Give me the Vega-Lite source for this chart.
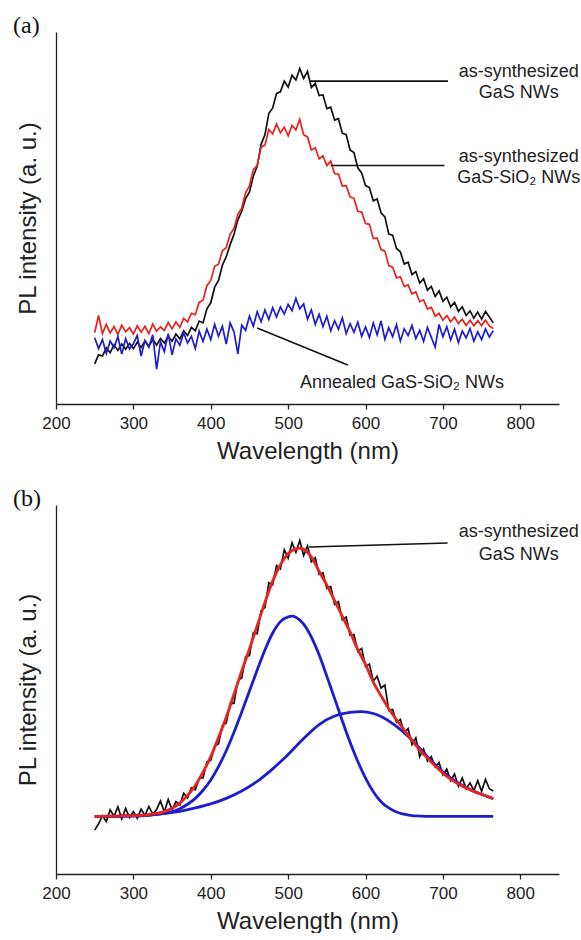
{
  "$schema": "https://vega.github.io/schema/vega-lite/v6.json",
  "background": "white",
  "padding": {"left": 13, "top": 14, "right": 0, "bottom": 0},
  "spacing": 24,
  "config": {
    "view": {"stroke": null},
    "font": "Liberation Sans",
    "axis": {"domainColor": "#222", "domainWidth": 1.3, "tickColor": "#222", "tickWidth": 1.3, "tickSize": 5, "labelFont": "Liberation Sans", "labelFontSize": 17, "labelColor": "#222", "labelPadding": 6, "titleFont": "Liberation Sans", "titleFontSize": 24, "titleFontWeight": "normal", "titleColor": "#222", "titlePadding": 8, "grid": false},
    "axisY": {"titlePadding": 16},
    "title": {"font": "Liberation Serif", "fontSize": 24, "fontWeight": "normal", "color": "#111", "anchor": "start", "frame": "group", "dx": -43, "dy": 10, "offset": 4}
  },
  "datasets": {
    "spectra": [
      {"series":"a_GaS","nm":250,"pl":10.8},{"series":"a_GaS","nm":255,"pl":13.2},{"series":"a_GaS","nm":260,"pl":12.9},{"series":"a_GaS","nm":265,"pl":15.1},{"series":"a_GaS","nm":270,"pl":13.8},{"series":"a_GaS","nm":275,"pl":15.9},{"series":"a_GaS","nm":280,"pl":14.4},{"series":"a_GaS","nm":285,"pl":16.1},{"series":"a_GaS","nm":290,"pl":14.7},{"series":"a_GaS","nm":295,"pl":16.3},{"series":"a_GaS","nm":300,"pl":14.9},{"series":"a_GaS","nm":305,"pl":16.6},{"series":"a_GaS","nm":310,"pl":15.2},{"series":"a_GaS","nm":315,"pl":16.9},{"series":"a_GaS","nm":320,"pl":15.5},{"series":"a_GaS","nm":325,"pl":17.4},{"series":"a_GaS","nm":330,"pl":15.8},{"series":"a_GaS","nm":335,"pl":17.6},{"series":"a_GaS","nm":340,"pl":16.4},{"series":"a_GaS","nm":345,"pl":18.2},{"series":"a_GaS","nm":350,"pl":16.9},{"series":"a_GaS","nm":355,"pl":18.8},{"series":"a_GaS","nm":360,"pl":17.5},{"series":"a_GaS","nm":365,"pl":19.6},{"series":"a_GaS","nm":370,"pl":18.4},{"series":"a_GaS","nm":375,"pl":20.6},{"series":"a_GaS","nm":380,"pl":19.7},{"series":"a_GaS","nm":385,"pl":22.3},{"series":"a_GaS","nm":390,"pl":21.8},{"series":"a_GaS","nm":395,"pl":25.6},{"series":"a_GaS","nm":400,"pl":27.2},{"series":"a_GaS","nm":405,"pl":31.4},{"series":"a_GaS","nm":410,"pl":33.2},{"series":"a_GaS","nm":415,"pl":37.3},{"series":"a_GaS","nm":420,"pl":39.6},{"series":"a_GaS","nm":425,"pl":42.8},{"series":"a_GaS","nm":430,"pl":45.6},{"series":"a_GaS","nm":435,"pl":49.5},{"series":"a_GaS","nm":440,"pl":51.8},{"series":"a_GaS","nm":445,"pl":55.2},{"series":"a_GaS","nm":450,"pl":57.0},{"series":"a_GaS","nm":455,"pl":61.3},{"series":"a_GaS","nm":460,"pl":63.9},{"series":"a_GaS","nm":465,"pl":69.8},{"series":"a_GaS","nm":470,"pl":72.4},{"series":"a_GaS","nm":475,"pl":78.1},{"series":"a_GaS","nm":480,"pl":79.6},{"series":"a_GaS","nm":485,"pl":83.5},{"series":"a_GaS","nm":490,"pl":83.9},{"series":"a_GaS","nm":495,"pl":86.8},{"series":"a_GaS","nm":500,"pl":85.2},{"series":"a_GaS","nm":505,"pl":88.4},{"series":"a_GaS","nm":510,"pl":87.1},{"series":"a_GaS","nm":515,"pl":90.2},{"series":"a_GaS","nm":520,"pl":87.5},{"series":"a_GaS","nm":525,"pl":89.4},{"series":"a_GaS","nm":530,"pl":85.1},{"series":"a_GaS","nm":535,"pl":86.2},{"series":"a_GaS","nm":540,"pl":82.9},{"series":"a_GaS","nm":545,"pl":83.1},{"series":"a_GaS","nm":550,"pl":79.4},{"series":"a_GaS","nm":555,"pl":79.8},{"series":"a_GaS","nm":560,"pl":76.3},{"series":"a_GaS","nm":565,"pl":76.7},{"series":"a_GaS","nm":570,"pl":72.8},{"series":"a_GaS","nm":575,"pl":72.4},{"series":"a_GaS","nm":580,"pl":68.3},{"series":"a_GaS","nm":585,"pl":67.6},{"series":"a_GaS","nm":590,"pl":63.5},{"series":"a_GaS","nm":595,"pl":62.1},{"series":"a_GaS","nm":600,"pl":58.7},{"series":"a_GaS","nm":605,"pl":58.2},{"series":"a_GaS","nm":610,"pl":54.6},{"series":"a_GaS","nm":615,"pl":55.1},{"series":"a_GaS","nm":620,"pl":51.4},{"series":"a_GaS","nm":625,"pl":50.3},{"series":"a_GaS","nm":630,"pl":45.7},{"series":"a_GaS","nm":635,"pl":45.4},{"series":"a_GaS","nm":640,"pl":41.8},{"series":"a_GaS","nm":645,"pl":40.9},{"series":"a_GaS","nm":650,"pl":37.6},{"series":"a_GaS","nm":655,"pl":38.1},{"series":"a_GaS","nm":660,"pl":34.8},{"series":"a_GaS","nm":665,"pl":35.6},{"series":"a_GaS","nm":670,"pl":32.5},{"series":"a_GaS","nm":675,"pl":33.7},{"series":"a_GaS","nm":680,"pl":30.6},{"series":"a_GaS","nm":685,"pl":31.6},{"series":"a_GaS","nm":690,"pl":28.9},{"series":"a_GaS","nm":695,"pl":30.4},{"series":"a_GaS","nm":700,"pl":27.6},{"series":"a_GaS","nm":705,"pl":28.7},{"series":"a_GaS","nm":710,"pl":26.1},{"series":"a_GaS","nm":715,"pl":27.3},{"series":"a_GaS","nm":720,"pl":24.9},{"series":"a_GaS","nm":725,"pl":26.1},{"series":"a_GaS","nm":730,"pl":23.8},{"series":"a_GaS","nm":735,"pl":25.0},{"series":"a_GaS","nm":740,"pl":23.1},{"series":"a_GaS","nm":745,"pl":24.7},{"series":"a_GaS","nm":750,"pl":22.8},{"series":"a_GaS","nm":755,"pl":24.9},{"series":"a_GaS","nm":760,"pl":23.4},{"series":"a_GaS","nm":765,"pl":21.8},

      {"series":"a_GaSSiO2","nm":250,"pl":19.2},{"series":"a_GaSSiO2","nm":255,"pl":23.8},{"series":"a_GaSSiO2","nm":260,"pl":18.9},{"series":"a_GaSSiO2","nm":265,"pl":21.4},{"series":"a_GaSSiO2","nm":270,"pl":19.1},{"series":"a_GaSSiO2","nm":275,"pl":20.8},{"series":"a_GaSSiO2","nm":280,"pl":18.7},{"series":"a_GaSSiO2","nm":285,"pl":21.2},{"series":"a_GaSSiO2","nm":290,"pl":19.4},{"series":"a_GaSSiO2","nm":295,"pl":20.5},{"series":"a_GaSSiO2","nm":300,"pl":18.8},{"series":"a_GaSSiO2","nm":305,"pl":21.0},{"series":"a_GaSSiO2","nm":310,"pl":19.3},{"series":"a_GaSSiO2","nm":315,"pl":20.9},{"series":"a_GaSSiO2","nm":320,"pl":18.9},{"series":"a_GaSSiO2","nm":325,"pl":21.5},{"series":"a_GaSSiO2","nm":330,"pl":19.6},{"series":"a_GaSSiO2","nm":335,"pl":20.7},{"series":"a_GaSSiO2","nm":340,"pl":19.8},{"series":"a_GaSSiO2","nm":345,"pl":21.9},{"series":"a_GaSSiO2","nm":350,"pl":20.2},{"series":"a_GaSSiO2","nm":355,"pl":22.1},{"series":"a_GaSSiO2","nm":360,"pl":20.6},{"series":"a_GaSSiO2","nm":365,"pl":23.0},{"series":"a_GaSSiO2","nm":370,"pl":22.1},{"series":"a_GaSSiO2","nm":375,"pl":24.4},{"series":"a_GaSSiO2","nm":380,"pl":24.0},{"series":"a_GaSSiO2","nm":385,"pl":27.3},{"series":"a_GaSSiO2","nm":390,"pl":27.9},{"series":"a_GaSSiO2","nm":395,"pl":31.8},{"series":"a_GaSSiO2","nm":400,"pl":33.2},{"series":"a_GaSSiO2","nm":405,"pl":37.0},{"series":"a_GaSSiO2","nm":410,"pl":37.6},{"series":"a_GaSSiO2","nm":415,"pl":41.2},{"series":"a_GaSSiO2","nm":420,"pl":42.0},{"series":"a_GaSSiO2","nm":425,"pl":45.6},{"series":"a_GaSSiO2","nm":430,"pl":47.2},{"series":"a_GaSSiO2","nm":435,"pl":51.0},{"series":"a_GaSSiO2","nm":440,"pl":52.6},{"series":"a_GaSSiO2","nm":445,"pl":56.8},{"series":"a_GaSSiO2","nm":450,"pl":58.6},{"series":"a_GaSSiO2","nm":455,"pl":63.0},{"series":"a_GaSSiO2","nm":460,"pl":64.1},{"series":"a_GaSSiO2","nm":465,"pl":69.0},{"series":"a_GaSSiO2","nm":470,"pl":69.6},{"series":"a_GaSSiO2","nm":475,"pl":73.8},{"series":"a_GaSSiO2","nm":480,"pl":72.6},{"series":"a_GaSSiO2","nm":485,"pl":75.3},{"series":"a_GaSSiO2","nm":490,"pl":72.9},{"series":"a_GaSSiO2","nm":495,"pl":74.4},{"series":"a_GaSSiO2","nm":500,"pl":72.1},{"series":"a_GaSSiO2","nm":505,"pl":74.9},{"series":"a_GaSSiO2","nm":510,"pl":73.7},{"series":"a_GaSSiO2","nm":515,"pl":76.5},{"series":"a_GaSSiO2","nm":520,"pl":72.4},{"series":"a_GaSSiO2","nm":525,"pl":71.8},{"series":"a_GaSSiO2","nm":530,"pl":68.3},{"series":"a_GaSSiO2","nm":535,"pl":68.9},{"series":"a_GaSSiO2","nm":540,"pl":65.9},{"series":"a_GaSSiO2","nm":545,"pl":66.7},{"series":"a_GaSSiO2","nm":550,"pl":64.1},{"series":"a_GaSSiO2","nm":555,"pl":65.3},{"series":"a_GaSSiO2","nm":560,"pl":61.9},{"series":"a_GaSSiO2","nm":565,"pl":61.8},{"series":"a_GaSSiO2","nm":570,"pl":58.6},{"series":"a_GaSSiO2","nm":575,"pl":58.7},{"series":"a_GaSSiO2","nm":580,"pl":55.7},{"series":"a_GaSSiO2","nm":585,"pl":55.3},{"series":"a_GaSSiO2","nm":590,"pl":51.8},{"series":"a_GaSSiO2","nm":595,"pl":51.6},{"series":"a_GaSSiO2","nm":600,"pl":48.5},{"series":"a_GaSSiO2","nm":605,"pl":48.3},{"series":"a_GaSSiO2","nm":610,"pl":44.5},{"series":"a_GaSSiO2","nm":615,"pl":44.6},{"series":"a_GaSSiO2","nm":620,"pl":41.5},{"series":"a_GaSSiO2","nm":625,"pl":41.1},{"series":"a_GaSSiO2","nm":630,"pl":37.2},{"series":"a_GaSSiO2","nm":635,"pl":36.8},{"series":"a_GaSSiO2","nm":640,"pl":33.9},{"series":"a_GaSSiO2","nm":645,"pl":34.2},{"series":"a_GaSSiO2","nm":650,"pl":31.6},{"series":"a_GaSSiO2","nm":655,"pl":32.0},{"series":"a_GaSSiO2","nm":660,"pl":29.6},{"series":"a_GaSSiO2","nm":665,"pl":30.1},{"series":"a_GaSSiO2","nm":670,"pl":27.5},{"series":"a_GaSSiO2","nm":675,"pl":28.0},{"series":"a_GaSSiO2","nm":680,"pl":25.5},{"series":"a_GaSSiO2","nm":685,"pl":26.0},{"series":"a_GaSSiO2","nm":690,"pl":23.6},{"series":"a_GaSSiO2","nm":695,"pl":24.4},{"series":"a_GaSSiO2","nm":700,"pl":22.5},{"series":"a_GaSSiO2","nm":705,"pl":23.8},{"series":"a_GaSSiO2","nm":710,"pl":22.1},{"series":"a_GaSSiO2","nm":715,"pl":23.4},{"series":"a_GaSSiO2","nm":720,"pl":21.6},{"series":"a_GaSSiO2","nm":725,"pl":22.8},{"series":"a_GaSSiO2","nm":730,"pl":21.1},{"series":"a_GaSSiO2","nm":735,"pl":22.5},{"series":"a_GaSSiO2","nm":740,"pl":21.0},{"series":"a_GaSSiO2","nm":745,"pl":22.4},{"series":"a_GaSSiO2","nm":750,"pl":21.1},{"series":"a_GaSSiO2","nm":755,"pl":22.6},{"series":"a_GaSSiO2","nm":760,"pl":21.0},{"series":"a_GaSSiO2","nm":765,"pl":20.3},

      {"series":"a_annealed","nm":250,"pl":17.8},{"series":"a_annealed","nm":255,"pl":14.9},{"series":"a_annealed","nm":260,"pl":17.3},{"series":"a_annealed","nm":265,"pl":13.6},{"series":"a_annealed","nm":270,"pl":16.9},{"series":"a_annealed","nm":275,"pl":15.2},{"series":"a_annealed","nm":280,"pl":18.1},{"series":"a_annealed","nm":285,"pl":13.4},{"series":"a_annealed","nm":290,"pl":17.6},{"series":"a_annealed","nm":295,"pl":14.8},{"series":"a_annealed","nm":300,"pl":16.2},{"series":"a_annealed","nm":305,"pl":18.4},{"series":"a_annealed","nm":310,"pl":12.9},{"series":"a_annealed","nm":315,"pl":17.1},{"series":"a_annealed","nm":320,"pl":15.3},{"series":"a_annealed","nm":325,"pl":18.6},{"series":"a_annealed","nm":330,"pl":9.4},{"series":"a_annealed","nm":335,"pl":16.7},{"series":"a_annealed","nm":340,"pl":14.1},{"series":"a_annealed","nm":345,"pl":18.9},{"series":"a_annealed","nm":350,"pl":13.2},{"series":"a_annealed","nm":355,"pl":17.5},{"series":"a_annealed","nm":360,"pl":15.8},{"series":"a_annealed","nm":365,"pl":19.1},{"series":"a_annealed","nm":370,"pl":16.4},{"series":"a_annealed","nm":375,"pl":18.2},{"series":"a_annealed","nm":380,"pl":14.9},{"series":"a_annealed","nm":385,"pl":19.6},{"series":"a_annealed","nm":390,"pl":16.8},{"series":"a_annealed","nm":395,"pl":20.1},{"series":"a_annealed","nm":400,"pl":17.3},{"series":"a_annealed","nm":405,"pl":21.4},{"series":"a_annealed","nm":410,"pl":18.2},{"series":"a_annealed","nm":415,"pl":20.9},{"series":"a_annealed","nm":420,"pl":16.1},{"series":"a_annealed","nm":425,"pl":21.8},{"series":"a_annealed","nm":430,"pl":19.4},{"series":"a_annealed","nm":435,"pl":13.5},{"series":"a_annealed","nm":440,"pl":21.2},{"series":"a_annealed","nm":445,"pl":19.8},{"series":"a_annealed","nm":450,"pl":23.6},{"series":"a_annealed","nm":455,"pl":20.9},{"series":"a_annealed","nm":460,"pl":24.8},{"series":"a_annealed","nm":465,"pl":22.1},{"series":"a_annealed","nm":470,"pl":25.3},{"series":"a_annealed","nm":475,"pl":22.7},{"series":"a_annealed","nm":480,"pl":25.9},{"series":"a_annealed","nm":485,"pl":23.4},{"series":"a_annealed","nm":490,"pl":26.1},{"series":"a_annealed","nm":495,"pl":24.2},{"series":"a_annealed","nm":500,"pl":26.8},{"series":"a_annealed","nm":505,"pl":25.1},{"series":"a_annealed","nm":510,"pl":28.4},{"series":"a_annealed","nm":515,"pl":25.6},{"series":"a_annealed","nm":520,"pl":26.9},{"series":"a_annealed","nm":525,"pl":22.8},{"series":"a_annealed","nm":530,"pl":25.3},{"series":"a_annealed","nm":535,"pl":21.4},{"series":"a_annealed","nm":540,"pl":24.1},{"series":"a_annealed","nm":545,"pl":20.8},{"series":"a_annealed","nm":550,"pl":23.6},{"series":"a_annealed","nm":555,"pl":19.7},{"series":"a_annealed","nm":560,"pl":22.4},{"series":"a_annealed","nm":565,"pl":20.1},{"series":"a_annealed","nm":570,"pl":23.2},{"series":"a_annealed","nm":575,"pl":18.9},{"series":"a_annealed","nm":580,"pl":21.6},{"series":"a_annealed","nm":585,"pl":19.3},{"series":"a_annealed","nm":590,"pl":22.0},{"series":"a_annealed","nm":595,"pl":18.2},{"series":"a_annealed","nm":600,"pl":20.7},{"series":"a_annealed","nm":605,"pl":17.9},{"series":"a_annealed","nm":610,"pl":21.8},{"series":"a_annealed","nm":615,"pl":18.6},{"series":"a_annealed","nm":620,"pl":22.3},{"series":"a_annealed","nm":625,"pl":17.4},{"series":"a_annealed","nm":630,"pl":20.5},{"series":"a_annealed","nm":635,"pl":18.1},{"series":"a_annealed","nm":640,"pl":21.3},{"series":"a_annealed","nm":645,"pl":16.9},{"series":"a_annealed","nm":650,"pl":20.2},{"series":"a_annealed","nm":655,"pl":18.4},{"series":"a_annealed","nm":660,"pl":21.1},{"series":"a_annealed","nm":665,"pl":17.6},{"series":"a_annealed","nm":670,"pl":19.8},{"series":"a_annealed","nm":675,"pl":16.8},{"series":"a_annealed","nm":680,"pl":20.6},{"series":"a_annealed","nm":685,"pl":17.9},{"series":"a_annealed","nm":690,"pl":15.3},{"series":"a_annealed","nm":695,"pl":21.4},{"series":"a_annealed","nm":700,"pl":18.1},{"series":"a_annealed","nm":705,"pl":20.8},{"series":"a_annealed","nm":710,"pl":17.2},{"series":"a_annealed","nm":715,"pl":20.1},{"series":"a_annealed","nm":720,"pl":16.5},{"series":"a_annealed","nm":725,"pl":19.6},{"series":"a_annealed","nm":730,"pl":17.8},{"series":"a_annealed","nm":735,"pl":20.3},{"series":"a_annealed","nm":740,"pl":16.9},{"series":"a_annealed","nm":745,"pl":19.4},{"series":"a_annealed","nm":750,"pl":17.3},{"series":"a_annealed","nm":755,"pl":20.2},{"series":"a_annealed","nm":760,"pl":18.0},{"series":"a_annealed","nm":765,"pl":19.7},

      {"series":"b_data","nm":250,"pl":11.9},{"series":"b_data","nm":255,"pl":13.6},{"series":"b_data","nm":260,"pl":15.8},{"series":"b_data","nm":265,"pl":14.2},{"series":"b_data","nm":270,"pl":17.4},{"series":"b_data","nm":275,"pl":15.6},{"series":"b_data","nm":280,"pl":18.2},{"series":"b_data","nm":285,"pl":14.9},{"series":"b_data","nm":290,"pl":17.8},{"series":"b_data","nm":295,"pl":15.3},{"series":"b_data","nm":300,"pl":16.9},{"series":"b_data","nm":305,"pl":15.1},{"series":"b_data","nm":310,"pl":17.6},{"series":"b_data","nm":315,"pl":15.9},{"series":"b_data","nm":320,"pl":18.3},{"series":"b_data","nm":325,"pl":16.2},{"series":"b_data","nm":330,"pl":17.5},{"series":"b_data","nm":335,"pl":19.8},{"series":"b_data","nm":340,"pl":16.8},{"series":"b_data","nm":345,"pl":20.2},{"series":"b_data","nm":350,"pl":17.4},{"series":"b_data","nm":355,"pl":19.6},{"series":"b_data","nm":360,"pl":18.7},{"series":"b_data","nm":365,"pl":21.9},{"series":"b_data","nm":370,"pl":20.6},{"series":"b_data","nm":375,"pl":23.4},{"series":"b_data","nm":380,"pl":22.8},{"series":"b_data","nm":385,"pl":25.9},{"series":"b_data","nm":390,"pl":26.1},{"series":"b_data","nm":395,"pl":30.4},{"series":"b_data","nm":400,"pl":30.8},{"series":"b_data","nm":405,"pl":34.6},{"series":"b_data","nm":410,"pl":35.3},{"series":"b_data","nm":415,"pl":40.2},{"series":"b_data","nm":420,"pl":40.9},{"series":"b_data","nm":425,"pl":46.1},{"series":"b_data","nm":430,"pl":46.3},{"series":"b_data","nm":435,"pl":52.4},{"series":"b_data","nm":440,"pl":53.1},{"series":"b_data","nm":445,"pl":58.9},{"series":"b_data","nm":450,"pl":59.2},{"series":"b_data","nm":455,"pl":65.4},{"series":"b_data","nm":460,"pl":65.1},{"series":"b_data","nm":465,"pl":71.3},{"series":"b_data","nm":470,"pl":72.2},{"series":"b_data","nm":475,"pl":78.9},{"series":"b_data","nm":480,"pl":78.4},{"series":"b_data","nm":485,"pl":83.6},{"series":"b_data","nm":490,"pl":82.7},{"series":"b_data","nm":495,"pl":87.9},{"series":"b_data","nm":500,"pl":85.6},{"series":"b_data","nm":505,"pl":89.8},{"series":"b_data","nm":510,"pl":87.2},{"series":"b_data","nm":515,"pl":90.4},{"series":"b_data","nm":520,"pl":86.3},{"series":"b_data","nm":525,"pl":88.9},{"series":"b_data","nm":530,"pl":84.6},{"series":"b_data","nm":535,"pl":85.7},{"series":"b_data","nm":540,"pl":81.2},{"series":"b_data","nm":545,"pl":81.6},{"series":"b_data","nm":550,"pl":77.4},{"series":"b_data","nm":555,"pl":77.9},{"series":"b_data","nm":560,"pl":73.1},{"series":"b_data","nm":565,"pl":73.8},{"series":"b_data","nm":570,"pl":68.9},{"series":"b_data","nm":575,"pl":69.6},{"series":"b_data","nm":580,"pl":64.7},{"series":"b_data","nm":585,"pl":64.9},{"series":"b_data","nm":590,"pl":60.3},{"series":"b_data","nm":595,"pl":61.1},{"series":"b_data","nm":600,"pl":56.2},{"series":"b_data","nm":605,"pl":56.9},{"series":"b_data","nm":610,"pl":52.3},{"series":"b_data","nm":615,"pl":53.6},{"series":"b_data","nm":620,"pl":50.4},{"series":"b_data","nm":625,"pl":51.2},{"series":"b_data","nm":630,"pl":44.3},{"series":"b_data","nm":635,"pl":44.6},{"series":"b_data","nm":640,"pl":41.1},{"series":"b_data","nm":645,"pl":41.9},{"series":"b_data","nm":650,"pl":38.2},{"series":"b_data","nm":655,"pl":39.4},{"series":"b_data","nm":660,"pl":35.1},{"series":"b_data","nm":665,"pl":36.9},{"series":"b_data","nm":670,"pl":31.8},{"series":"b_data","nm":675,"pl":33.9},{"series":"b_data","nm":680,"pl":30.6},{"series":"b_data","nm":685,"pl":31.8},{"series":"b_data","nm":690,"pl":29.0},{"series":"b_data","nm":695,"pl":30.2},{"series":"b_data","nm":700,"pl":26.9},{"series":"b_data","nm":705,"pl":28.4},{"series":"b_data","nm":710,"pl":25.3},{"series":"b_data","nm":715,"pl":27.1},{"series":"b_data","nm":720,"pl":23.8},{"series":"b_data","nm":725,"pl":26.0},{"series":"b_data","nm":730,"pl":23.1},{"series":"b_data","nm":735,"pl":24.7},{"series":"b_data","nm":740,"pl":22.6},{"series":"b_data","nm":745,"pl":25.3},{"series":"b_data","nm":750,"pl":22.4},{"series":"b_data","nm":755,"pl":25.6},{"series":"b_data","nm":760,"pl":23.1},{"series":"b_data","nm":765,"pl":22.5},

      {"series":"b_peak1","nm":250,"pl":15.6},{"series":"b_peak1","nm":300,"pl":15.7},{"series":"b_peak1","nm":320,"pl":15.9},{"series":"b_peak1","nm":340,"pl":16.4},{"series":"b_peak1","nm":350,"pl":16.9},{"series":"b_peak1","nm":360,"pl":17.7},{"series":"b_peak1","nm":370,"pl":18.9},{"series":"b_peak1","nm":380,"pl":20.5},{"series":"b_peak1","nm":390,"pl":22.7},{"series":"b_peak1","nm":400,"pl":25.5},{"series":"b_peak1","nm":410,"pl":29.1},{"series":"b_peak1","nm":420,"pl":33.4},{"series":"b_peak1","nm":430,"pl":38.4},{"series":"b_peak1","nm":440,"pl":43.9},{"series":"b_peak1","nm":450,"pl":49.6},{"series":"b_peak1","nm":460,"pl":55.3},{"series":"b_peak1","nm":470,"pl":60.7},{"series":"b_peak1","nm":480,"pl":65.3},{"series":"b_peak1","nm":490,"pl":68.4},{"series":"b_peak1","nm":500,"pl":69.7},{"series":"b_peak1","nm":505,"pl":69.9},{"series":"b_peak1","nm":510,"pl":69.6},{"series":"b_peak1","nm":520,"pl":67.7},{"series":"b_peak1","nm":530,"pl":64.2},{"series":"b_peak1","nm":540,"pl":59.4},{"series":"b_peak1","nm":550,"pl":53.6},{"series":"b_peak1","nm":560,"pl":47.6},{"series":"b_peak1","nm":570,"pl":41.5},{"series":"b_peak1","nm":580,"pl":35.7},{"series":"b_peak1","nm":590,"pl":30.5},{"series":"b_peak1","nm":600,"pl":26.0},{"series":"b_peak1","nm":610,"pl":22.3},{"series":"b_peak1","nm":620,"pl":19.6},{"series":"b_peak1","nm":630,"pl":17.9},{"series":"b_peak1","nm":640,"pl":16.8},{"series":"b_peak1","nm":650,"pl":16.2},{"series":"b_peak1","nm":660,"pl":15.8},{"series":"b_peak1","nm":670,"pl":15.7},{"series":"b_peak1","nm":680,"pl":15.6},{"series":"b_peak1","nm":700,"pl":15.6},{"series":"b_peak1","nm":765,"pl":15.6},

      {"series":"b_peak2","nm":250,"pl":15.6},{"series":"b_peak2","nm":280,"pl":15.7},{"series":"b_peak2","nm":300,"pl":15.8},{"series":"b_peak2","nm":320,"pl":16.0},{"series":"b_peak2","nm":340,"pl":16.4},{"series":"b_peak2","nm":360,"pl":17.0},{"series":"b_peak2","nm":380,"pl":17.9},{"series":"b_peak2","nm":400,"pl":19.0},{"series":"b_peak2","nm":420,"pl":20.5},{"series":"b_peak2","nm":440,"pl":22.5},{"series":"b_peak2","nm":460,"pl":25.1},{"series":"b_peak2","nm":480,"pl":28.5},{"series":"b_peak2","nm":500,"pl":32.4},{"series":"b_peak2","nm":520,"pl":36.7},{"series":"b_peak2","nm":540,"pl":40.5},{"series":"b_peak2","nm":560,"pl":42.8},{"series":"b_peak2","nm":580,"pl":43.8},{"series":"b_peak2","nm":595,"pl":44.0},{"series":"b_peak2","nm":610,"pl":43.5},{"series":"b_peak2","nm":620,"pl":42.7},{"series":"b_peak2","nm":640,"pl":40.0},{"series":"b_peak2","nm":660,"pl":36.3},{"series":"b_peak2","nm":680,"pl":31.8},{"series":"b_peak2","nm":700,"pl":27.7},{"series":"b_peak2","nm":720,"pl":24.6},{"series":"b_peak2","nm":740,"pl":22.4},{"series":"b_peak2","nm":765,"pl":20.4},

      {"series":"b_fit","nm":250,"pl":15.6},{"series":"b_fit","nm":260,"pl":15.6},{"series":"b_fit","nm":270,"pl":15.7},{"series":"b_fit","nm":280,"pl":15.7},{"series":"b_fit","nm":290,"pl":15.8},{"series":"b_fit","nm":300,"pl":15.8},{"series":"b_fit","nm":310,"pl":15.9},{"series":"b_fit","nm":320,"pl":16.1},{"series":"b_fit","nm":330,"pl":16.4},{"series":"b_fit","nm":340,"pl":16.9},{"series":"b_fit","nm":350,"pl":17.8},{"series":"b_fit","nm":360,"pl":19.2},{"series":"b_fit","nm":370,"pl":21.3},{"series":"b_fit","nm":380,"pl":24.0},{"series":"b_fit","nm":390,"pl":27.6},{"series":"b_fit","nm":400,"pl":31.8},{"series":"b_fit","nm":410,"pl":37.0},{"series":"b_fit","nm":420,"pl":42.5},{"series":"b_fit","nm":430,"pl":48.7},{"series":"b_fit","nm":440,"pl":55.0},{"series":"b_fit","nm":450,"pl":61.0},{"series":"b_fit","nm":460,"pl":67.3},{"series":"b_fit","nm":470,"pl":73.6},{"series":"b_fit","nm":480,"pl":79.4},{"series":"b_fit","nm":490,"pl":83.8},{"series":"b_fit","nm":500,"pl":86.8},{"series":"b_fit","nm":510,"pl":88.1},{"series":"b_fit","nm":515,"pl":88.3},{"series":"b_fit","nm":520,"pl":88.0},{"series":"b_fit","nm":530,"pl":85.9},{"series":"b_fit","nm":540,"pl":82.0},{"series":"b_fit","nm":550,"pl":78.3},{"series":"b_fit","nm":560,"pl":74.1},{"series":"b_fit","nm":570,"pl":69.8},{"series":"b_fit","nm":580,"pl":65.6},{"series":"b_fit","nm":590,"pl":60.8},{"series":"b_fit","nm":600,"pl":56.8},{"series":"b_fit","nm":610,"pl":52.0},{"series":"b_fit","nm":620,"pl":48.3},{"series":"b_fit","nm":630,"pl":44.8},{"series":"b_fit","nm":640,"pl":41.8},{"series":"b_fit","nm":650,"pl":39.0},{"series":"b_fit","nm":660,"pl":36.2},{"series":"b_fit","nm":670,"pl":33.6},{"series":"b_fit","nm":680,"pl":31.4},{"series":"b_fit","nm":690,"pl":29.3},{"series":"b_fit","nm":700,"pl":27.3},{"series":"b_fit","nm":710,"pl":25.7},{"series":"b_fit","nm":720,"pl":24.4},{"series":"b_fit","nm":730,"pl":23.3},{"series":"b_fit","nm":740,"pl":22.4},{"series":"b_fit","nm":750,"pl":21.6},{"series":"b_fit","nm":760,"pl":20.9},{"series":"b_fit","nm":765,"pl":20.4}
    ],
    "leaders": [
      {"panel":"a","nm":527,"pl":86.8,"nm2":706.5,"pl2":86.8},
      {"panel":"a","nm":555,"pl":64.1,"nm2":702,"pl2":64.1},
      {"panel":"a","nm":460,"pl":20.4,"nm2":577,"pl2":10.5},
      {"panel":"b","nm":527,"pl":88.6,"nm2":706,"pl2":89.7}
    ],
    "labels": [
      {"panel":"a","nm":798,"pl":89.3,"text":"as-synthesized"},
      {"panel":"a","nm":798,"pl":83.5,"text":"GaS NWs"},
      {"panel":"a","nm":798,"pl":66.5,"text":"as-synthesized"},
      {"panel":"a","nm":798,"pl":60.7,"text":"GaS-SiO₂ NWs"},
      {"panel":"a","nm":647,"pl":5.6,"text":"Annealed GaS-SiO₂ NWs"},
      {"panel":"b","nm":798,"pl":92.7,"text":"as-synthesized"},
      {"panel":"b","nm":798,"pl":86.4,"text":"GaS NWs"}
    ]
  },
  "vconcat": [
    {
      "width": 503,
      "height": 372,
      "title": {"text": "(a)"},
      "encoding": {
        "x": {"field": "nm", "type": "quantitative", "scale": {"domain": [200, 850], "nice": false, "zero": false}, "axis": {"values": [200, 300, 400, 500, 600, 700, 800], "title": "Wavelength (nm)", "labelFlush": false}},
        "y": {"field": "pl", "type": "quantitative", "scale": {"domain": [0, 100], "nice": false, "zero": false}, "axis": {"title": "PL intensity (a. u.)", "ticks": false, "labels": false}}
      },
      "layer": [
        {"data": {"name": "spectra"}, "transform": [{"filter": "datum.series === 'a_GaS'"}], "mark": {"type": "line", "color": "#111111", "strokeWidth": 1.7, "clip": false}},
        {"data": {"name": "spectra"}, "transform": [{"filter": "datum.series === 'a_GaSSiO2'"}], "mark": {"type": "line", "color": "#e8221e", "strokeWidth": 1.7, "clip": false}},
        {"data": {"name": "spectra"}, "transform": [{"filter": "datum.series === 'a_annealed'"}], "mark": {"type": "line", "color": "#1d1dcf", "strokeWidth": 1.7, "clip": false}},
        {"data": {"name": "leaders"}, "transform": [{"filter": "datum.panel === 'a'"}], "mark": {"type": "rule", "color": "#111111", "strokeWidth": 1.6}, "encoding": {"x2": {"field": "nm2"}, "y2": {"field": "pl2"}}},
        {"data": {"name": "labels"}, "transform": [{"filter": "datum.panel === 'a'"}], "mark": {"type": "text", "align": "center", "baseline": "middle", "fontSize": 18, "font": "Liberation Sans", "color": "#222222"}, "encoding": {"text": {"field": "text"}}}
      ]
    },
    {
      "width": 503,
      "height": 369,
      "title": {"text": "(b)"},
      "encoding": {
        "x": {"field": "nm", "type": "quantitative", "scale": {"domain": [200, 850], "nice": false, "zero": false}, "axis": {"values": [200, 300, 400, 500, 600, 700, 800], "title": "Wavelength (nm)", "labelFlush": false}},
        "y": {"field": "pl", "type": "quantitative", "scale": {"domain": [0, 100], "nice": false, "zero": false}, "axis": {"title": "PL intensity (a. u.)", "ticks": false, "labels": false}}
      },
      "layer": [
        {"data": {"name": "spectra"}, "transform": [{"filter": "datum.series === 'b_data'"}], "mark": {"type": "line", "color": "#111111", "strokeWidth": 1.7, "clip": false}},
        {"data": {"name": "spectra"}, "transform": [{"filter": "datum.series === 'b_peak1' || datum.series === 'b_peak2'"}], "mark": {"type": "line", "color": "#1d1dcf", "strokeWidth": 2.8, "interpolate": "monotone", "clip": false}, "encoding": {"detail": {"field": "series"}}},
        {"data": {"name": "spectra"}, "transform": [{"filter": "datum.series === 'b_fit'"}], "mark": {"type": "line", "color": "#e8221e", "strokeWidth": 2.8, "interpolate": "monotone", "clip": false}},
        {"data": {"name": "leaders"}, "transform": [{"filter": "datum.panel === 'b'"}], "mark": {"type": "rule", "color": "#111111", "strokeWidth": 1.6}, "encoding": {"x2": {"field": "nm2"}, "y2": {"field": "pl2"}}},
        {"data": {"name": "labels"}, "transform": [{"filter": "datum.panel === 'b'"}], "mark": {"type": "text", "align": "center", "baseline": "middle", "fontSize": 18, "font": "Liberation Sans", "color": "#222222"}, "encoding": {"text": {"field": "text"}}}
      ]
    }
  ]
}
